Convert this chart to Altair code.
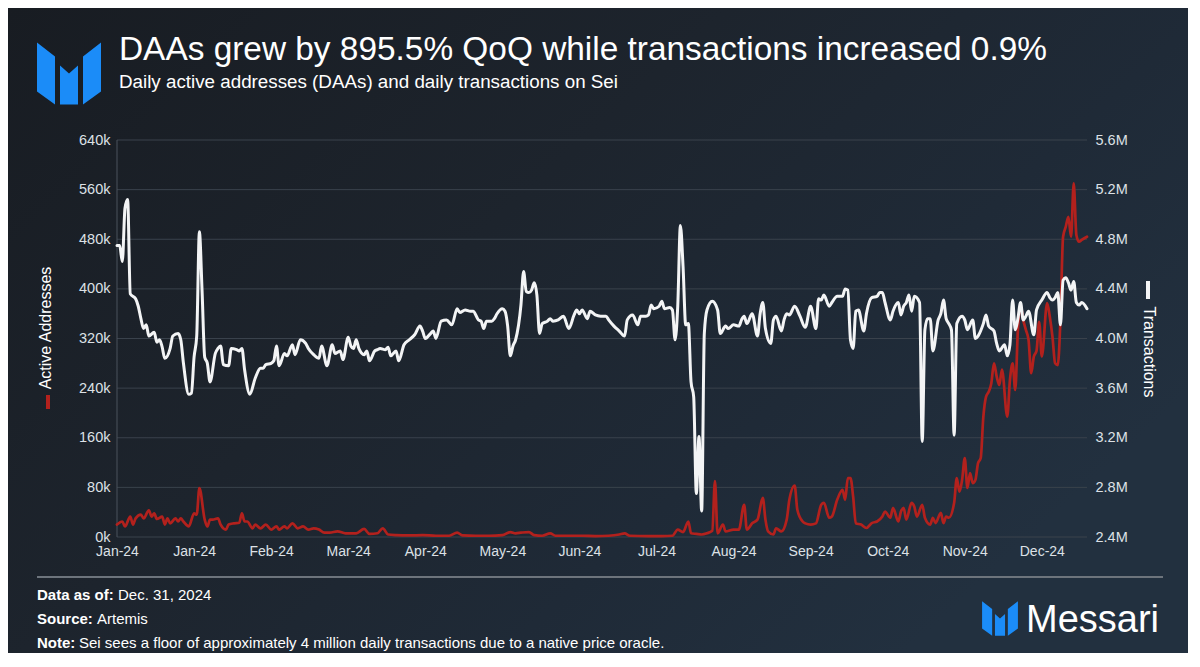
import altair as alt
import pandas as pd

# ---------------- data ----------------
# day index: 0 = 1 Jan 2024 ... 365 = 31 Dec 2024
tx_days = [0, 1, 2, 3, 4, 5, 7, 8, 9, 10, 11, 12, 14, 15, 16, 17, 18, 20, 21, 23, 24, 25, 27, 28, 29, 30,
           31, 32, 33, 34, 35, 37, 38, 39, 40, 42, 43, 45, 46, 47, 48, 50, 52, 54, 55, 56, 58, 59, 60, 61,
           63, 64, 66, 67, 69, 71, 72, 74, 76, 77, 79, 81, 82, 84, 85, 87, 88, 89, 90, 91, 93, 94, 95, 97,
           98, 99, 101, 102, 103, 105, 106, 108, 110, 112, 114, 115, 116, 118, 119, 120, 122, 124, 126,
           128, 129, 131, 133, 134, 136, 137, 138, 139, 141, 142, 143, 145, 146, 147, 148, 149, 150, 152,
           153, 154, 155, 156, 157, 158, 159, 160, 162, 163, 164, 166, 168, 170, 172, 173, 174, 175, 177,
           178, 180, 182, 184, 185, 187, 189, 191, 192, 194, 196, 197, 199, 200, 201, 202, 204, 205, 206,
           208, 209, 210, 211, 212, 213, 214, 215, 216, 217, 218, 219, 220, 221, 222, 224, 226, 227, 229,
           230, 232, 234, 235, 236, 237, 239, 241, 242, 243, 244, 246, 247, 248, 250, 251, 252, 253, 255,
           257, 259, 261, 263, 264, 265, 266, 268, 269, 271, 273, 274, 275, 276, 277, 278, 279, 281, 282,
           284, 286, 287, 288, 289, 291, 292, 294, 295, 296, 297, 298, 299, 300, 302, 303, 304, 305, 306,
           307, 309, 310, 311, 312, 313, 314, 315, 316, 318, 319, 320, 322, 323, 324, 326, 327, 328, 330,
           331, 332, 334, 335, 336, 337, 338, 339, 340, 341, 342, 343, 345, 346, 348, 350, 351, 352, 353,
           354, 355, 356, 357, 358, 359, 360, 361, 362, 363, 365]
tx_millions = [4.75, 4.75, 4.62, 5.05, 5.12, 4.36, 4.32, 4.26, 4.16, 4.08, 4.11, 4.02, 4.05, 3.97, 3.99,
               3.93, 3.84, 3.92, 4.02, 4.04, 3.99, 3.80, 3.55, 3.56, 3.85, 4.02,
               4.86, 4.39, 3.85, 3.80, 3.65, 3.88, 3.92, 3.94, 3.79, 3.78, 3.92, 3.91, 3.90, 3.92, 3.75,
               3.55, 3.68, 3.76, 3.76, 3.79, 3.80, 3.82, 3.94, 3.78,
               3.88, 3.86, 3.95, 3.87, 3.99, 3.96, 3.92, 3.87, 3.84, 3.94, 3.78, 3.95, 3.88, 3.90, 3.83,
               4.01, 3.94, 3.92, 3.99, 3.92, 3.87, 3.90, 3.82, 3.90,
               3.91, 3.92, 3.91, 3.93, 3.86, 3.90, 3.82, 3.95, 3.99, 4.03, 4.10, 4.06, 4.00, 4.04, 4.06,
               4.00, 4.14, 4.15, 4.11,
               4.24, 4.21, 4.23, 4.22, 4.22, 4.15, 4.14, 4.08, 4.14, 4.14, 4.16, 4.20, 4.24, 4.22, 4.10,
               3.86, 3.94, 3.99, 4.27,
               4.54, 4.38, 4.37, 4.39, 4.45, 4.35, 4.04, 4.12, 4.14, 4.16, 4.14, 4.15, 4.18, 4.08, 4.19,
               4.23, 4.20, 4.23, 4.16,
               4.22, 4.19, 4.18, 4.18, 4.15, 4.10, 4.06, 4.02, 4.15, 4.19, 4.11, 4.18, 4.18, 4.19, 4.27,
               4.24, 4.26, 4.30, 4.24,
               4.25, 4.23, 3.99, 4.26, 4.91, 4.58, 4.11, 4.12, 3.65, 3.53, 2.75, 3.21, 2.61, 4.04, 4.23,
               4.30, 4.23, 4.04, 4.10,
               4.08, 4.11, 4.10, 4.15, 4.18, 4.12, 4.20, 4.02, 4.20, 4.29, 4.08, 3.96, 4.15, 4.18, 4.06,
               4.15, 4.20, 4.19, 4.26,
               4.18, 4.09, 4.26, 4.08, 4.32, 4.31, 4.35, 4.26, 4.29, 4.34, 4.34, 4.40, 4.39, 3.99, 3.92,
               4.22, 4.23, 4.06, 4.20,
               4.33, 4.34, 4.37, 4.37, 4.29, 4.15, 4.22, 4.29, 4.19, 4.26, 4.29, 4.35, 4.22, 4.34, 4.29,
               3.17, 4.07, 4.16, 4.16,
               3.90, 4.15, 4.20, 4.31, 4.16, 4.12, 4.07, 3.22, 4.12, 4.18, 4.15, 4.07, 4.15, 4.00, 4.02,
               4.12, 4.19, 4.10, 4.06,
               3.96, 3.90, 3.95, 3.86, 3.95, 4.31, 4.07, 4.16, 4.29, 4.15, 4.18, 4.22, 4.03, 4.23, 4.31,
               4.37, 4.33, 4.31, 4.33,
               4.37, 4.11, 4.47, 4.49, 4.45, 4.39, 4.46, 4.29, 4.27, 4.29, 4.24]

daa_days = [0, 2, 3, 5, 6, 7, 9, 10, 12, 13, 14, 15, 17, 18, 19, 20, 22, 23, 24, 25, 27, 29, 30, 31, 33,
            34, 35, 36, 38, 39, 41, 42, 44, 46, 47, 48, 49, 51, 52, 54, 56, 58, 60, 61, 63, 64, 66, 68,
            70, 72, 74, 76, 78, 80, 83, 86, 90, 93, 95, 98, 100, 102, 105, 110, 115, 120, 125, 128, 130,
            135, 140, 145, 148, 150, 152, 155, 157, 160, 163, 165, 170, 175, 180, 185, 189, 191, 193, 200,
            205, 209, 211, 213, 215, 216, 218, 220, 222, 224, 225, 226, 228, 229, 232, 234, 236, 237, 239,
            241, 243, 244, 245, 247, 248, 250, 252, 253, 255, 256, 258, 259, 261, 263, 265, 266, 268, 269,
            271, 273, 274, 275, 276, 277, 278, 280, 282, 284, 286, 288, 289, 291, 292, 294, 295, 296, 297,
            299, 300, 301, 303, 304, 306, 307, 308, 310, 311, 312, 313, 315, 316, 317, 318, 319, 320, 321,
            322, 323, 324, 325, 326, 327, 328, 329, 330, 331, 332, 333, 335, 336, 337, 338, 339, 340, 341,
            342, 343, 344, 345, 346, 347, 348, 350, 351, 352, 353, 354, 355, 356, 357, 358, 359, 360, 361,
            362, 363, 365]
daa_thousands = [20, 25, 17, 33, 20, 30, 36, 30, 43, 33, 38, 29, 33, 20, 30, 22, 30, 25, 30, 25, 17, 38,
                 36, 79, 28,
                 17, 28, 28, 30, 20, 12, 20, 22, 23, 38, 25, 25, 14, 20, 14, 20, 12, 17, 12, 17, 14, 22, 14,
                 17, 12, 14, 12, 7, 7, 9, 6, 6, 13, 5, 6, 14, 4, 3, 2.5, 3, 2, 2, 7, 2.5,
                 2, 2, 3, 8, 6, 7, 8, 3, 2, 6, 2, 2, 2, 1.5, 2, 4, 6, 2, 1.5,
                 1.5, 2, 12, 8, 25, 6, 5, 4, 6, 10, 90, 6, 20, 9, 12, 12, 52, 12, 22,
                 28, 63, 28, 9, 4, 14, 9, 28, 60, 83, 44, 25, 22, 20, 22, 52, 55, 31, 33,
                 60, 76, 60, 95, 95, 65, 22, 20, 14.5, 22.5, 25, 33, 41, 31, 47, 25, 41, 47, 28,
                 55, 49, 33, 52, 31, 20, 31, 22.5, 39, 22.5, 33, 31, 55, 95, 73, 92, 127, 79, 103,
                 87, 92, 119, 127, 194, 226, 234, 248, 280, 259, 245, 270, 194, 253, 280, 237, 334, 374, 350,
                 334, 318, 264, 291, 300, 347, 291, 377, 355, 323, 280, 277, 350, 484, 500, 516, 484, 570, 487,
                 476, 479, 484]

x_tick_days = [0, 29, 58, 87, 116, 145, 174, 203, 232, 261, 290, 319, 348]
x_tick_labels = ["Jan-24", "Jan-24", "Feb-24", "Mar-24", "Apr-24", "May-24", "Jun-24",
                 "Jul-24", "Aug-24", "Sep-24", "Oct-24", "Nov-24", "Dec-24"]
daa_ticks = [0, 80000, 160000, 240000, 320000, 400000, 480000, 560000, 640000]
tx_ticks = [2400000, 2800000, 3200000, 3600000, 4000000, 4400000, 4800000, 5200000, 5600000]

TITLE = "DAAs grew by 895.5% QoQ while transactions increased 0.9%"
SUBTITLE = "Daily active addresses (DAAs) and daily transactions on Sei"

# ---------------- styling ----------------
FONT = "Liberation Sans"
RED = "#b3211d"
WHITE = "#f3f4f5"
LABEL = "#dde1e6"
GRID = "#3a424c"
BLUE = "#1b8cf8"

W, H = 970, 397           # plot area
PL, PT, PR, PB = 109, 132, 101, 116
X0, Y0 = 8 + PL, 8 + PT   # page position of plot origin


def rx(px):
    return px - X0


def ry(py):
    return py - Y0


daa_df = pd.DataFrame({"day": daa_days, "daa": [v * 1000 for v in daa_thousands]})
tx_df = pd.DataFrame({"day": tx_days, "tx": [v * 1e6 for v in tx_millions]})
grid_df = pd.DataFrame({"g": daa_ticks})
one = pd.DataFrame({"k": [0]})

DAA_SCALE = alt.Scale(domain=[0, 640000], nice=False)

label_array = "[" + ",".join("'%s'" % s for s in x_tick_labels) + "]"
x_enc = alt.X(
    "day:Q",
    scale=alt.Scale(domain=[0, 365], nice=False, zero=False),
    axis=alt.Axis(values=x_tick_days,
                  labelExpr=label_array + "[indexof(%s, datum.value)]" % str(x_tick_days),
                  title=None, grid=False, domain=False, ticks=False, labelPadding=7, zindex=1,
                  labelFlush=False, labelFont=FONT, labelFontSize=14, labelColor=LABEL),
)

# horizontal grid lines (drawn as their own layer so they stay behind the series)
grid = alt.Chart(grid_df).mark_rule(color=GRID, strokeWidth=1).encode(
    y=alt.Y("g:Q", scale=DAA_SCALE, axis=None),
    x=alt.value(0), x2=alt.value(W),
)
left_domain = alt.Chart(one).mark_rule(color="#4a525c", strokeWidth=1).encode(
    x=alt.value(0), y=alt.value(0), y2=alt.value(H))

daa_line = alt.Chart(daa_df).mark_line(
    color=RED, strokeWidth=2.7, interpolate="monotone", strokeJoin="round", strokeCap="round"
).encode(
    x=x_enc,
    y=alt.Y("daa:Q", scale=DAA_SCALE,
            axis=alt.Axis(orient="left", values=daa_ticks, labelExpr="datum.value / 1000 + 'k'",
                          title=None, grid=False, domain=False, ticks=False, zindex=1,
                          labelPadding=7, labelFont=FONT, labelFontSize=14.5, labelColor=LABEL)),
)

tx_line = alt.Chart(tx_df).mark_line(
    color=WHITE, strokeWidth=3, interpolate="monotone", strokeJoin="round", strokeCap="round"
).encode(
    x=x_enc,
    y=alt.Y("tx:Q", scale=alt.Scale(domain=[2400000, 5600000], nice=False, zero=False),
            axis=alt.Axis(orient="right", values=tx_ticks,
                          labelExpr="format(datum.value / 1000000, '.1f') + 'M'",
                          title=None, grid=False, domain=False, ticks=False, zindex=1,
                          labelPadding=8, labelFont=FONT, labelFontSize=14.5, labelColor=LABEL)),
)

# background gradient: dark at top-left, bluish toward the right
bg = alt.Chart(one).mark_rect(
    fill={"gradient": "linear", "x1": 0, "y1": 0, "x2": 1, "y2": 0.6,
          "stops": [{"offset": 0, "color": "#181c22"},
                    {"offset": 0.45, "color": "#1d242d"},
                    {"offset": 0.75, "color": "#1f2a37"},
                    {"offset": 1, "color": "#22303f"}]}
).encode(x=alt.value(-PL), x2=alt.value(W + PR), y=alt.value(-PT), y2=alt.value(H + PB))


def text(t, px, py, size, weight="normal", color="white", angle=0, align="left", baseline="alphabetic"):
    return alt.Chart(one).mark_text(
        text=t, font=FONT, fontSize=size, fontWeight=weight, color=color, angle=angle,
        align=align, baseline=baseline
    ).encode(x=alt.value(rx(px)), y=alt.value(ry(py)))


LOGO = ("M-32,-31L-14,-17L-14,31L-32,18Z "
        "M-9,-8L0,0L9,-8L9,31L-9,31Z "
        "M14,-17L32,-31L32,18L14,31Z")


def logo(cx, cy, scale):
    return alt.Chart(one).mark_point(
        shape=LOGO, size=4 * scale * scale, filled=True, color=BLUE, opacity=1, strokeWidth=0
    ).encode(x=alt.value(rx(cx)), y=alt.value(ry(cy)))


def rule(x1, y1, x2, y2, color, width):
    return alt.Chart(one).mark_rule(color=color, strokeWidth=width).encode(
        x=alt.value(rx(x1)), x2=alt.value(rx(x2)), y=alt.value(ry(y1)), y2=alt.value(ry(y2)))


layers = [
    bg,
    grid,
    left_domain,
    daa_line,
    tx_line,
    text(TITLE, 119, 60, 33.4),
    text(SUBTITLE, 119, 87.5, 18.8),
    logo(69, 73.5, 1.0),
    text("Active Addresses", 46, 328, 16, color="white", angle=270, align="center", baseline="middle"),
    rule(48, 395, 48, 409, RED, 4),
    text("Transactions", 1149, 352, 16, color="white", angle=90, align="center", baseline="middle"),
    rule(1148, 281, 1148, 299, WHITE, 4),
    rule(37, 577, 1163, 577, "#6d747c", 2),
    text("Data as of:", 37, 599.5, 15, weight="bold"),
    text("Dec. 31, 2024", 118, 599.5, 15),
    text("Source:", 37, 623.5, 15, weight="bold"),
    text("Artemis", 97, 623.5, 15),
    text("Note:", 37, 647.5, 15, weight="bold"),
    text("Sei sees a floor of approximately 4 million daily transactions due to a native price oracle.",
         79, 647.5, 15),
    logo(1000, 618.5, 0.56),
    text("Messari", 1026, 632, 38),
]

chart = alt.layer(*layers).resolve_scale(y="independent").properties(
    width=W, height=H,
    padding={"left": PL, "top": PT, "right": PR, "bottom": PB},
    autosize=alt.AutoSizeParams(type="none"),
).configure(background="#1d232b").configure_view(stroke=None)

chart.save("out.html", embed_options={"renderer": "svg", "actions": False})
